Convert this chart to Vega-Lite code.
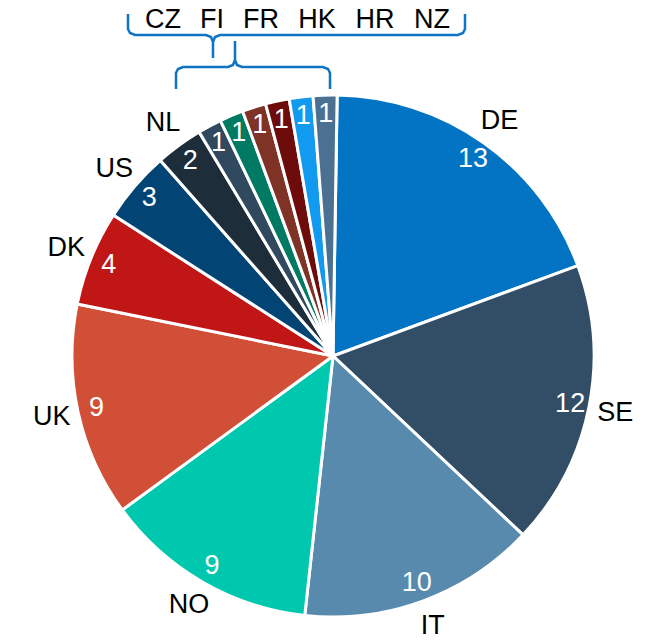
{
  "$schema": "https://vega.github.io/schema/vega-lite/v6.json",
  "width": 654,
  "height": 641,
  "padding": 0,
  "autosize": {"type": "fit", "contains": "padding"},
  "background": "white",
  "config": {"view": {"stroke": null}, "font": "Liberation Sans"},
  "datasets": {
    "slices": [
      {"country": "DE", "value": 13, "rank": 1, "label": "DE"},
      {"country": "SE", "value": 12, "rank": 2, "label": "SE"},
      {"country": "IT", "value": 10, "rank": 3, "label": "IT"},
      {"country": "NO", "value": 9, "rank": 4, "label": "NO"},
      {"country": "UK", "value": 9, "rank": 5, "label": "UK"},
      {"country": "DK", "value": 4, "rank": 6, "label": "DK"},
      {"country": "US", "value": 3, "rank": 7, "label": "US"},
      {"country": "NL", "value": 2, "rank": 8, "label": "NL"},
      {"country": "CZ", "value": 1, "rank": 9, "label": ""},
      {"country": "FI", "value": 1, "rank": 10, "label": ""},
      {"country": "FR", "value": 1, "rank": 11, "label": ""},
      {"country": "HK", "value": 1, "rank": 12, "label": ""},
      {"country": "HR", "value": 1, "rank": 13, "label": ""},
      {"country": "NZ", "value": 1, "rank": 14, "label": ""}
    ],
    "toplabels": [
      {"t": "CZ", "x": 163, "y": 20},
      {"t": "FI", "x": 212, "y": 20},
      {"t": "FR", "x": 261, "y": 20},
      {"t": "HK", "x": 317, "y": 20},
      {"t": "HR", "x": 375, "y": 20},
      {"t": "NZ", "x": 432, "y": 20}
    ],
    "braces": [
      {"b": "top", "i": 1, "x": 128, "y": 14},
      {"b": "top", "i": 2, "x": 128, "y": 29},
      {"b": "top", "i": 3, "x": 130, "y": 33},
      {"b": "top", "i": 4, "x": 135, "y": 35},
      {"b": "top", "i": 5, "x": 206, "y": 35},
      {"b": "top", "i": 6, "x": 211, "y": 37},
      {"b": "top", "i": 7, "x": 213, "y": 42},
      {"b": "top", "i": 8, "x": 213, "y": 58},
      {"b": "top", "i": 9, "x": 213, "y": 42},
      {"b": "top", "i": 10, "x": 215, "y": 37},
      {"b": "top", "i": 11, "x": 220, "y": 35},
      {"b": "top", "i": 12, "x": 458, "y": 35},
      {"b": "top", "i": 13, "x": 463, "y": 33},
      {"b": "top", "i": 14, "x": 465, "y": 29},
      {"b": "top", "i": 15, "x": 465, "y": 14},
      {"b": "low", "i": 1, "x": 176, "y": 89},
      {"b": "low", "i": 2, "x": 176, "y": 73},
      {"b": "low", "i": 3, "x": 178, "y": 69},
      {"b": "low", "i": 4, "x": 183, "y": 67},
      {"b": "low", "i": 5, "x": 228, "y": 67},
      {"b": "low", "i": 6, "x": 233, "y": 65},
      {"b": "low", "i": 7, "x": 235, "y": 60},
      {"b": "low", "i": 8, "x": 235, "y": 41},
      {"b": "low", "i": 9, "x": 235, "y": 60},
      {"b": "low", "i": 10, "x": 237, "y": 65},
      {"b": "low", "i": 11, "x": 242, "y": 67},
      {"b": "low", "i": 12, "x": 323, "y": 67},
      {"b": "low", "i": 13, "x": 328, "y": 69},
      {"b": "low", "i": 14, "x": 330, "y": 73},
      {"b": "low", "i": 15, "x": 330, "y": 89}
    ]
  },
  "layer": [
    {
      "data": {"name": "slices"},
      "mark": {"type": "arc", "x": 333, "y": 356, "outerRadius": 261, "stroke": "white", "strokeWidth": 3},
      "encoding": {
        "theta": {"field": "value", "type": "quantitative", "stack": true, "scale": {"range": [0.016, 6.299]}},
        "order": {"field": "rank", "type": "quantitative"},
        "color": {
          "field": "country", "type": "nominal", "legend": null,
          "scale": {
            "domain": ["DE", "SE", "IT", "NO", "UK", "DK", "US", "NL", "CZ", "FI", "FR", "HK", "HR", "NZ"],
            "range": ["#0373C4", "#324E66", "#588AAE", "#00C8AE", "#D04F36", "#C01616", "#024574", "#1E2D3A", "#30495F", "#017A63", "#7F3226", "#6E0C0C", "#129AF0", "#4C7092"]
          }
        }
      }
    },
    {
      "data": {"name": "slices"},
      "mark": {"type": "text", "x": 333, "y": 356, "radius": 242, "fontSize": 27, "color": "white", "align": "center", "baseline": "middle"},
      "encoding": {
        "theta": {"field": "value", "type": "quantitative", "stack": true, "scale": {"range": [0.016, 6.299]}},
        "order": {"field": "rank", "type": "quantitative"},
        "text": {"field": "value", "type": "quantitative"}
      }
    },
    {
      "data": {"name": "slices"},
      "mark": {"type": "text", "x": 333, "y": 356, "radius": 288, "fontSize": 27, "color": "black", "align": "center", "baseline": "middle"},
      "encoding": {
        "theta": {"field": "value", "type": "quantitative", "stack": true, "scale": {"range": [0.016, 6.299]}},
        "order": {"field": "rank", "type": "quantitative"},
        "text": {"field": "label", "type": "nominal"}
      }
    },
    {
      "data": {"name": "toplabels"},
      "mark": {"type": "text", "fontSize": 27, "color": "black", "align": "center", "baseline": "middle"},
      "encoding": {
        "x": {"field": "x", "type": "quantitative", "scale": {"domain": [0, 654]}, "axis": null},
        "y": {"field": "y", "type": "quantitative", "scale": {"domain": [0, 641], "reverse": true}, "axis": null},
        "text": {"field": "t", "type": "nominal"}
      }
    },
    {
      "data": {"name": "braces"},
      "mark": {"type": "line", "color": "#0E74C6", "strokeWidth": 2.5},
      "encoding": {
        "x": {"field": "x", "type": "quantitative", "scale": {"domain": [0, 654]}, "axis": null},
        "y": {"field": "y", "type": "quantitative", "scale": {"domain": [0, 641], "reverse": true}, "axis": null},
        "detail": {"field": "b", "type": "nominal"},
        "order": {"field": "i", "type": "quantitative"}
      }
    }
  ]
}
